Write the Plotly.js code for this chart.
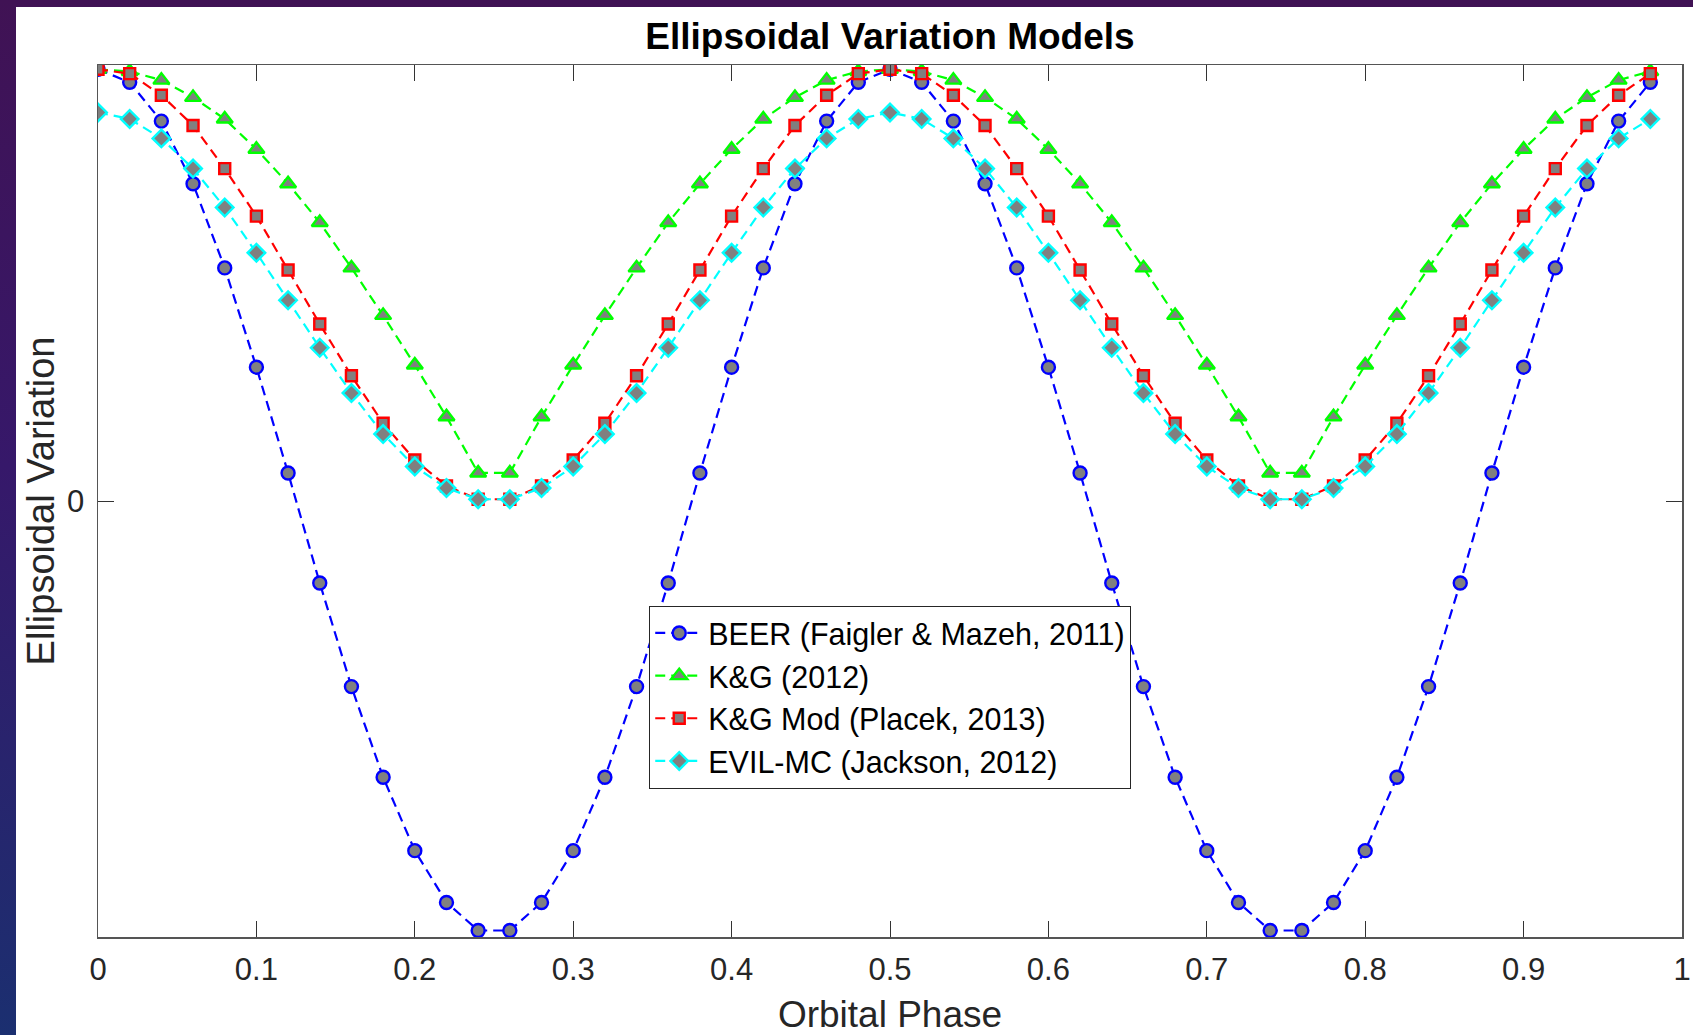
<!DOCTYPE html>
<html>
<head>
<meta charset="utf-8">
<script src="https://cdn.plot.ly/plotly-3.0.1.min.js"></script>
<style>
  html, body { margin: 0; padding: 0; width: 1693px; height: 1035px; overflow: hidden; }
  body { background: linear-gradient(to bottom, #401254 0%, #36186a 45%, #1b2f70 100%); position: relative; }
  #chart { position: absolute; left: 16px; top: 7px; width: 1677px; height: 1028px; background: #ffffff; }
</style>
</head>
<body>
<div id="chart"></div>
<script>
const phase = [0, 0.02, 0.04, 0.06, 0.08, 0.10, 0.12, 0.14, 0.16, 0.18,
               0.20, 0.22, 0.24, 0.26, 0.28, 0.30, 0.32, 0.34, 0.36, 0.38,
               0.40, 0.42, 0.44, 0.46, 0.48, 0.50, 0.52, 0.54, 0.56, 0.58,
               0.60, 0.62, 0.64, 0.66, 0.68, 0.70, 0.72, 0.74, 0.76, 0.78,
               0.80, 0.82, 0.84, 0.86, 0.88, 0.90, 0.92, 0.94, 0.96, 0.98];

const beer = [1.00, 0.97, 0.88, 0.735, 0.54, 0.31, 0.065, -0.19, -0.43, -0.64,
              -0.81, -0.93, -0.995, -0.995, -0.93, -0.81, -0.64, -0.43, -0.19, 0.065,
              0.31, 0.54, 0.735, 0.88, 0.97, 1.00, 0.97, 0.88, 0.735, 0.54,
              0.31, 0.065, -0.19, -0.43, -0.64, -0.81, -0.93, -0.995, -0.995, -0.93,
              -0.81, -0.64, -0.43, -0.19, 0.065, 0.31, 0.54, 0.735, 0.88, 0.97];

const kg = [1.00, 0.995, 0.975, 0.935, 0.885, 0.815, 0.735, 0.645, 0.54, 0.43,
            0.315, 0.195, 0.065, 0.065, 0.195, 0.315, 0.43, 0.54, 0.645, 0.735,
            0.815, 0.885, 0.935, 0.975, 0.995, 1.00, 0.995, 0.975, 0.935, 0.885,
            0.815, 0.735, 0.645, 0.54, 0.43, 0.315, 0.195, 0.065, 0.065, 0.195,
            0.315, 0.43, 0.54, 0.645, 0.735, 0.815, 0.885, 0.935, 0.975, 0.995];

const kgMod = [1.00, 0.99, 0.94, 0.87, 0.77, 0.66, 0.535, 0.41, 0.29, 0.18,
               0.095, 0.035, 0.004, 0.004, 0.035, 0.095, 0.18, 0.29, 0.41, 0.535,
               0.66, 0.77, 0.87, 0.94, 0.99, 1.00, 0.99, 0.94, 0.87, 0.77,
               0.66, 0.535, 0.41, 0.29, 0.18, 0.095, 0.035, 0.004, 0.004, 0.035,
               0.095, 0.18, 0.29, 0.41, 0.535, 0.66, 0.77, 0.87, 0.94, 0.99];

const evilmc = [0.90, 0.885, 0.84, 0.77, 0.68, 0.575, 0.465, 0.355, 0.25, 0.155,
                0.08, 0.03, 0.004, 0.004, 0.03, 0.08, 0.155, 0.25, 0.355, 0.465,
                0.575, 0.68, 0.77, 0.84, 0.885, 0.90, 0.885, 0.84, 0.77, 0.68,
                0.575, 0.465, 0.355, 0.25, 0.155, 0.08, 0.03, 0.004, 0.004, 0.03,
                0.08, 0.155, 0.25, 0.355, 0.465, 0.575, 0.68, 0.77, 0.84, 0.885];

const seriesNames = ['BEER (Faigler & Mazeh, 2011)', 'K&G (2012)', 'K&G Mod (Placek, 2013)', 'EVIL-MC (Jackson, 2012)'];
const xTickVals = [0, 0.1, 0.2, 0.3, 0.4, 0.5, 0.6, 0.7, 0.8, 0.9, 1];
const xTickText = ['0', '0.1', '0.2', '0.3', '0.4', '0.5', '0.6', '0.7', '0.8', '0.9', '1'];
const yTickVals = [0];
const yTickText = ['0'];

const FONT = '"Liberation Sans", Arial, Helvetica, sans-serif';
const dash = '10px,6px';

function mk(y, name, color, symbol, size) {
  return {
    x: phase, y: y, name: name, type: 'scatter', mode: 'lines+markers',
    line: { color: color, width: 2.2, dash: dash },
    marker: { symbol: symbol, size: size, color: '#808080', line: { color: color, width: 2.4 } }
  };
}

const traces = [
  mk(beer, seriesNames[0], '#0000ff', 'circle', 13),
  mk(kg, seriesNames[1], '#00ff00', 'triangle-up', 14),
  mk(kgMod, seriesNames[2], '#ff0000', 'square', 11),
  mk(evilmc, seriesNames[3], '#00ffff', 'diamond', 13.5)
];

const layout = {
  width: 1677, height: 1028,
  paper_bgcolor: '#ffffff', plot_bgcolor: '#ffffff',
  margin: { l: 82, r: 11, t: 58, b: 98, pad: 0 },
  font: { family: FONT, color: '#262626' },
  title: { text: '<b>Ellipsoidal Variation Models</b>', font: { family: FONT, size: 37, color: '#000000' },
           x: 0.5, xanchor: 'center', y: 1 - 29 / 1028, yanchor: 'middle', xref: 'paper' },
  showlegend: true,
  legend: {
    x: 0.348, y: 0.38, xanchor: 'left', yanchor: 'top',
    bgcolor: '#ffffff', bordercolor: '#262626', borderwidth: 1,
    font: { family: FONT, size: 30.5, color: '#000000' },
    itemwidth: 48, tracegroupgap: 0
  },
  xaxis: {
    range: [0, 1], tickvals: xTickVals, ticktext: xTickText,
    ticks: 'inside', ticklen: 16, tickwidth: 1, tickcolor: '#333333',
    showline: true, linecolor: '#555555', linewidth: 1.5, mirror: 'allticks',
    showgrid: false, zeroline: false,
    tickfont: { family: FONT, size: 31, color: '#262626' },
    ticklabelstandoff: 4,
    title: { text: 'Orbital Phase', font: { family: FONT, size: 37, color: '#262626' }, standoff: 27 }
  },
  yaxis: {
    range: [-1.01, 1.01], tickvals: yTickVals, ticktext: yTickText,
    ticks: 'inside', ticklen: 16, tickwidth: 1, tickcolor: '#333333',
    showline: true, linecolor: '#555555', linewidth: 1.5, mirror: 'allticks',
    showgrid: false, zeroline: false,
    tickfont: { family: FONT, size: 31, color: '#262626' },
    ticklabelstandoff: 6,
    title: { text: 'Ellipsoidal Variation', font: { family: FONT, size: 38, color: '#262626' }, standoff: 0 }
  }
};

Plotly.newPlot('chart', traces, layout, { displayModeBar: false, staticPlot: true });
</script>
</body>
</html>
